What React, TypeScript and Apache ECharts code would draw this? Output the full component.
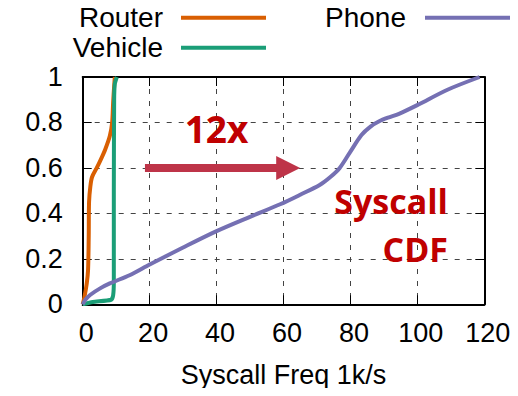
import React, { useEffect, useRef } from "react";
import * as echarts from "echarts";

const seriesNames = ["Router", "Vehicle", "Phone"];
const seriesColors = ["#d95f02", "#1b9e77", "#7570b3"];

const routerData: [number, number][] = [
  [0, 0], [0.5, 0.03], [1.2, 0.09], [1.6, 0.15], [1.8, 0.3], [1.9, 0.45],
  [2.3, 0.52], [2.8, 0.56], [4.2, 0.6], [5.5, 0.64], [6.7, 0.68], [8.1, 0.74],
  [8.8, 0.8], [9.1, 0.89], [9.4, 0.96], [9.6, 1],
];
const vehicleData: [number, number][] = [
  [0, 0], [3, 0.01], [8.5, 0.02], [9.1, 0.04], [9.3, 0.1], [9.3, 0.5],
  [9.4, 0.9], [9.6, 0.97], [10.2, 1],
];
const phoneData: [number, number][] = [
  [0, 0], [0.8, 0.02], [2.2, 0.041], [5.2, 0.07], [8.1, 0.092], [14, 0.128],
  [20, 0.175], [30, 0.25], [40, 0.322], [50, 0.385], [59, 0.44], [65, 0.482],
  [70.8, 0.525], [74, 0.56], [76.8, 0.6], [80, 0.672], [83.3, 0.745],
  [86, 0.782], [88.6, 0.805], [91.2, 0.821], [94.5, 0.838], [100.2, 0.878],
  [109, 0.944], [118.6, 1],
];

const xTicks = { min: 0, max: 120, interval: 20 };
const yTicks = { min: 0, max: 1, interval: 0.2 };
const xName = "Syscall Freq 1k/s";
const arrowFrom: [number, number] = [18.6, 0.6];
const arrowTo: [number, number] = [61.4, 0.6];
const annoTexts = ["12x", "Syscall", "CDF"];

const axisFont = "'Liberation Sans', Arial, sans-serif";
const annoFont = "'Open Sans', sans-serif";

export default function App() {
  const ref = useRef<HTMLDivElement>(null);
  useEffect(() => {
    if (!ref.current) return;
    const chart = echarts.init(ref.current, undefined, { renderer: "svg" });
    const gridLine = { show: true, lineStyle: { color: "#444", width: 1, type: [5, 7] as number[] } };
    const option: any = {
      animation: false,
      grid: { left: 82.7, right: 33.7, top: 77, bottom: 91.7 },
      xAxis: [
        {
          type: "value",
          ...xTicks,
          name: xName,
          nameLocation: "middle",
          nameGap: 57,
          nameTextStyle: { fontFamily: axisFont, fontSize: 27, color: "#000" },
          axisLine: { show: true, onZero: false, lineStyle: { color: "#000", width: 2 } },
          axisTick: { show: true, inside: true, length: 9, lineStyle: { color: "#000", width: 1 } },
          axisLabel: { fontFamily: axisFont, fontSize: 27, color: "#000", margin: 15, padding: [0, 0, 0, 7] },
          splitLine: gridLine,
        },
        {
          type: "value",
          position: "top",
          ...xTicks,
          axisLine: { show: true, onZero: false, lineStyle: { color: "#000", width: 2 } },
          axisTick: { show: true, inside: true, length: 9, lineStyle: { color: "#000", width: 1 } },
          axisLabel: { show: false },
          splitLine: { show: false },
        },
      ],
      yAxis: [
        {
          type: "value",
          ...yTicks,
          axisLine: { show: true, onZero: false, lineStyle: { color: "#000", width: 2 } },
          axisTick: { show: true, inside: true, length: 9, lineStyle: { color: "#000", width: 1 } },
          axisLabel: { fontFamily: axisFont, fontSize: 27, color: "#000", margin: 20 },
          splitLine: gridLine,
        },
        {
          type: "value",
          position: "right",
          ...yTicks,
          axisLine: { show: true, onZero: false, lineStyle: { color: "#000", width: 2 } },
          axisTick: { show: true, inside: true, length: 9, lineStyle: { color: "#000", width: 1 } },
          axisLabel: { show: false },
          splitLine: { show: false },
        },
      ],
      series: [
        {
          name: seriesNames[0],
          type: "line",
          data: routerData,
          smooth: 0.3,
          showSymbol: false,
          lineStyle: { color: seriesColors[0], width: 4 },
          z: 3,
        },
        {
          name: seriesNames[1],
          type: "line",
          data: vehicleData,
          smooth: 0.2,
          showSymbol: false,
          lineStyle: { color: seriesColors[1], width: 4 },
          z: 4,
        },
        {
          name: seriesNames[2],
          type: "line",
          data: phoneData,
          smooth: 0.3,
          showSymbol: false,
          lineStyle: { color: seriesColors[2], width: 4 },
          z: 5,
          markLine: {
            silent: true,
            symbol: ["none", "triangle"],
            symbolSize: [24, 24],
            label: { show: false },
            lineStyle: { color: "#be3448", width: 8, type: "solid" },
            data: [[{ coord: arrowFrom }, { coord: arrowTo }]],
          },
        },
      ],
      graphic: [
        { type: "text", x: 163, y: 17.7, style: { text: seriesNames[0], fontFamily: axisFont, fontSize: 28, fill: "#000", align: "right", verticalAlign: "middle" } },
        { type: "line", shape: { x1: 181, y1: 17.7, x2: 266, y2: 17.7 }, style: { stroke: seriesColors[0], lineWidth: 4 } },
        { type: "text", x: 163, y: 47.7, style: { text: seriesNames[1], fontFamily: axisFont, fontSize: 28, fill: "#000", align: "right", verticalAlign: "middle" } },
        { type: "line", shape: { x1: 181, y1: 47.7, x2: 266, y2: 47.7 }, style: { stroke: seriesColors[1], lineWidth: 4 } },
        { type: "text", x: 406, y: 17.7, style: { text: seriesNames[2], fontFamily: axisFont, fontSize: 28, fill: "#000", align: "right", verticalAlign: "middle" } },
        { type: "line", shape: { x1: 425, y1: 17.7, x2: 510, y2: 17.7 }, style: { stroke: seriesColors[2], lineWidth: 4 } },
        { type: "text", x: 216.5, y: 128, z: 10, style: { text: annoTexts[0], fontFamily: annoFont, fontWeight: "bold", fontSize: 37, fill: "#c00000", align: "center", verticalAlign: "middle" } },
        { type: "text", x: 448, y: 201, z: 10, style: { text: annoTexts[1], fontFamily: annoFont, fontWeight: "bold", fontSize: 34, fill: "#c00000", align: "right", verticalAlign: "middle" } },
        { type: "text", x: 448, y: 249, z: 10, style: { text: annoTexts[2], fontFamily: annoFont, fontWeight: "bold", fontSize: 34, fill: "#c00000", align: "right", verticalAlign: "middle" } },
      ],
    };
    chart.setOption(option);
    return () => chart.dispose();
  }, []);
  return <div ref={ref} style={{ width: 518, height: 396, margin: -8 }} />;
}
